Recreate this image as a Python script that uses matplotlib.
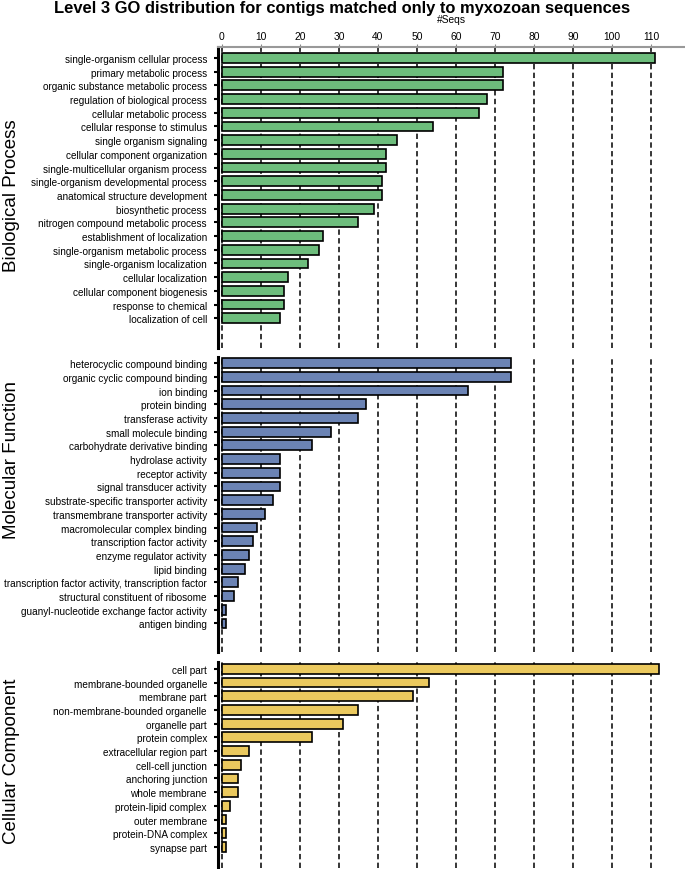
import numpy as np
import matplotlib.pyplot as plt

plt.rcParams['font.family'] = ['Liberation Sans', 'DejaVu Sans']

bp_terms = ['single-organism cellular process', 'primary metabolic process',
            'organic substance metabolic process', 'regulation of biological process',
            'cellular metabolic process', 'cellular response to stimulus',
            'single organism signaling', 'cellular component organization',
            'single-multicellular organism process', 'single-organism developmental process',
            'anatomical structure development', 'biosynthetic process',
            'nitrogen compound metabolic process', 'establishment of localization',
            'single-organism metabolic process', 'single-organism localization',
            'cellular localization', 'cellular component biogenesis',
            'response to chemical', 'localization of cell']
bp_counts = [111, 72, 72, 68, 66, 54, 45, 42, 42, 41, 41, 39, 35, 26, 25, 22, 17, 16, 16, 15]

mf_terms = ['heterocyclic compound binding', 'organic cyclic compound binding',
            'ion binding', 'protein binding', 'transferase activity',
            'small molecule binding', 'carbohydrate derivative binding',
            'hydrolase activity', 'receptor activity', 'signal transducer activity',
            'substrate-specific transporter activity', 'transmembrane transporter activity',
            'macromolecular complex binding', 'transcription factor activity',
            'enzyme regulator activity', 'lipid binding',
            'transcription factor activity, transcription factor',
            'structural constituent of ribosome',
            'guanyl-nucleotide exchange factor activity', 'antigen binding']
mf_counts = [74, 74, 63, 37, 35, 28, 23, 15, 15, 15, 13, 11, 9, 8, 7, 6, 4, 3, 1, 1]

cc_terms = ['cell part', 'membrane-bounded organelle', 'membrane part',
            'non-membrane-bounded organelle', 'organelle part', 'protein complex',
            'extracellular region part', 'cell-cell junction', 'anchoring junction',
            'whole membrane', 'protein-lipid complex', 'outer membrane',
            'protein-DNA complex', 'synapse part']
cc_counts = [112, 53, 49, 35, 31, 23, 7, 5, 4, 4, 2, 1, 1, 1]

x_ticks = list(range(0, 111, 10))

W, H = 685, 870
fig = plt.figure(figsize=(W / 100, H / 100), dpi=100)

# panels: (name, terms, counts, colour, top px, bottom px, top pad in bars, name centre px)
panels = [
    ('Biological Process', bp_terms, bp_counts, '#6dbd7c', 48, 349, 0.8, 196),
    ('Molecular Function', mf_terms, mf_counts, '#6b83b4', 358, 653, 0.45, 460),
    ('Cellular Component', cc_terms, cc_counts, '#ebc95e', 663, 869, 0.5, 761),
]
step = 13.7  # pixels per bar slot
left_px = 218

for i, (name, terms, counts, col, top, bot, pad, name_y) in enumerate(panels):
    ax = fig.add_axes([left_px / W, 1 - bot / H, 1 - left_px / W, (bot - top) / H])
    y = np.arange(len(terms))
    for xv in x_ticks:
        ax.axvline(xv, color='black', lw=1.1, dashes=(3.5, 2.2), zorder=0)
    ax.barh(y, counts, height=0.72, color=col, edgecolor='black', lw=1.2, zorder=2)
    ax.set_xlim(-1, (W - 222) / 3.9)
    ax.set_ylim(-pad + (bot - top) / step, -pad)
    ax.set_yticks(y)
    ax.set_yticklabels(terms, fontsize=7.2)
    ax.tick_params(axis='y', length=3, width=1.5, pad=5)
    for s in ['right', 'bottom']:
        ax.spines[s].set_visible(False)
    ax.spines['left'].set_linewidth(2.2)
    if i == 0:
        ax.xaxis.tick_top()
        ax.xaxis.set_label_position('top')
        ax.set_xticks(x_ticks)
        ax.tick_params(axis='x', labelsize=7.4, length=2, color='#888888', pad=2)
        ax.spines['top'].set_color('#999999')
        ax.spines['top'].set_linewidth(1.5)
        ax.set_xlabel('#Seqs', fontsize=7.4, labelpad=6.5)
    else:
        ax.spines['top'].set_visible(False)
        ax.set_xticks([])
    fig.text(12 / W, 1 - name_y / H, name, rotation=90, fontsize=13.5,
             ha='center', va='center')

fig.text(0.5, 1 - 9 / H, 'Level 3 GO distribution for contigs matched only to myxozoan sequences',
         ha='center', va='center', fontsize=11.9, fontweight='bold')

fig.savefig('out.png', dpi=100)
